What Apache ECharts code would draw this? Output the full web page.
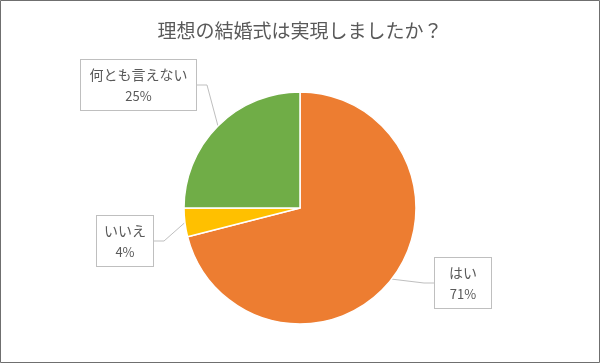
<!DOCTYPE html>
<html><head><meta charset="utf-8">
<script src="https://cdn.jsdelivr.net/npm/echarts@6/dist/echarts.min.js"></script>
<style>html,body{margin:0;padding:0;background:#fff}#c{width:600px;height:363px}</style>
</head><body><div id="c"></div>
<script>
const categories = ['はい', 'いいえ', '何とも言えない'];
const values = [71, 4, 25];
const colors = ['#ED7D31', '#FFC000', '#70AD47'];
const titleText = '理想の結婚式は実現しましたか？';

// label box placements (center-x, top-y) and content widths
const labelBoxes = [[463, 258, 28], [125, 216, 42], [138.5, 60, 101]];

const chart = echarts.init(document.getElementById('c'));
chart.setOption({
  animation: false,
  backgroundColor: '#fff',
  title: {
    text: titleText, left: 'center', top: 16,
    textStyle: {fontFamily: 'Noto Sans CJK JP', fontSize: 19, fontWeight: 'normal', color: '#595959'}
  },
  graphic: [{
    type: 'rect', z: 100, silent: true,
    shape: {x: 0.5, y: 0.5, width: 599, height: 362},
    style: {fill: 'none', stroke: '#6f6f6f', lineWidth: 1}
  }],
  series: [{
    type: 'pie',
    center: [300, 208],
    radius: 116,
    startAngle: 90,
    clockwise: true,
    data: categories.map((n, i) => ({
      name: n, value: values[i],
      itemStyle: {color: colors[i]},
      label: {width: labelBoxes[i][2], padding: labelBoxes[i][2] < 40 ? [4, 14, 4, 14] : [4, 7, 4, 7]}
    })),
    itemStyle: {borderColor: '#fff', borderWidth: 1.5},
    label: {
      show: true, position: 'outside',
      formatter: p => '{n|' + p.name + '}\n{v|' + p.value + '%}',
      backgroundColor: '#fff', borderColor: '#bfbfbf', borderWidth: 1,
      align: 'center',
      rich: {
        n: {fontFamily: 'Noto Sans CJK JP', fontSize: 14, color: '#595959', lineHeight: 22, align: 'center'},
        v: {fontFamily: 'Noto Sans CJK JP', fontSize: 13, color: '#595959', lineHeight: 20, align: 'center'}
      }
    },
    labelLine: {show: true, length: 10, length2: 10, lineStyle: {color: '#bfbfbf', width: 1}},
    labelLayout: function (params) {
      const b = labelBoxes[params.dataIndex];
      return {x: b[0], y: b[1], align: 'center', verticalAlign: 'top'};
    }
  }]
});
</script></body></html>
